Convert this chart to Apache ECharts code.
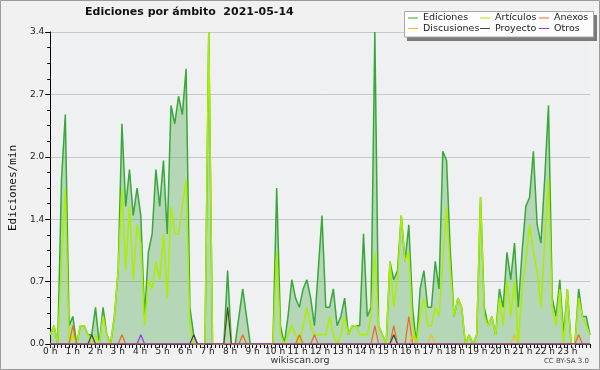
<!DOCTYPE html>
<html><head><meta charset="utf-8">
<script src="https://cdn.jsdelivr.net/npm/echarts@6/dist/echarts.min.js"></script>
<style>html,body{margin:0;padding:0;background:#f1f1f1}#c{width:600px;height:370px}</style>
</head><body><div id="c"></div>
<script>
// 10-minute slots, 00:00 .. 23:50
const times = [];
for (let h = 0; h < 24; h++) { for (let m = 0; m < 60; m += 10) { times.push(String(h).padStart(2,'0') + ':' + String(m).padStart(2,'0')); } }
const hourLabels = ['0 h','1 h','2 h','3 h','4 h','5 h','6 h','7 h','8 h','9 h','10 h','11 h','12 h','13 h','14 h','15 h','16 h','17 h','18 h','19 h','20 h','21 h','22 h','23 h'];

const ediciones = [
  0.1,0.2,0,1.8,2.5,0.2,0.3,0,0.2,0.2,0.1,0.1,
  0.4,0,0.4,0.1,0,0.3,0.8,2.4,1.5,1.9,1.4,1.7,
  1.4,0.3,1.0,1.2,1.9,1.5,2.0,1.2,2.6,2.4,2.7,2.5,
  3.0,0.4,0.1,0,0,0,3.4,0,0,0,0,0.8,
  0,0,0.3,0.6,0.3,0,0,0,0,0,0,0,
  1.7,0.2,0,0.3,0.7,0.5,0.4,0.6,0.7,0.5,0.2,0.8,
  1.4,0.4,0.4,0.6,0.2,0.3,0.5,0.1,0.2,0.2,0.2,1.2,
  0.3,0.4,3.4,0.2,0.1,0,0.9,0.7,0.8,1.4,0.9,1.3,
  0.4,0,0.6,0.8,0.4,0.4,0.9,0.6,2.1,2.0,1.0,0.3,
  0.5,0.4,0,0.1,0,0.1,1.6,0.4,0.2,0.3,0.1,0.6,
  0.4,1.0,0.7,1.1,0.4,1.0,1.5,1.6,2.1,1.3,1.1,1.8,
  2.6,0.5,0.3,0.7,0.1,0.6,0,0,0.6,0.3,0.3,0.1
];
const articulos = [
  0.1,0.2,0,0.9,1.7,0,0.1,0,0.2,0.2,0.1,0,
  0.1,0,0.3,0.1,0,0.3,0.8,1.7,0.8,1.5,0.7,1.3,
  1.1,0.2,0.7,0.6,0.9,0.7,1.2,0.5,1.5,1.2,1.2,1.5,
  1.8,0.2,0,0,0,0,3.4,0,0,0,0,0.4,
  0,0,0,0,0,0,0,0,0,0,0,0,
  1.0,0.1,0,0.1,0.2,0.1,0,0.2,0.4,0.2,0.1,0.1,
  0.1,0.1,0.3,0.1,0,0.1,0.3,0.1,0.2,0.2,0.1,0.1,
  0.1,0.3,1.0,0.2,0.1,0,0.9,0.4,0.7,1.4,0.9,1.0,
  0.2,0,0.3,0.5,0.2,0.2,0.4,0.3,0.9,1.5,0.8,0.3,
  0.5,0.4,0,0.1,0,0.1,1.6,0.3,0.2,0.3,0.1,0.5,
  0.2,0.7,0.3,0.7,0,0.6,0.9,1.3,1.0,0.8,0.4,1.1,
  1.8,0.4,0.2,0.6,0,0.6,0,0,0.5,0.3,0.2,0.1
];
const anexos = [
  0,0,0,0,0,0,0.2,0,0,0,0,0,
  0,0,0,0,0,0,0,0.1,0,0,0,0,
  0,0,0,0,0,0,0,0,0,0,0,0,
  0,0,0,0,0,0,0,0,0,0,0,0,
  0,0,0,0.1,0,0,0,0,0,0,0,0,
  0,0,0,0,0,0,0.1,0,0,0,0.1,0,
  0,0,0,0,0,0,0,0,0,0,0,0,
  0,0,0.2,0,0,0,0,0.2,0,0,0,0.3,
  0,0,0,0,0,0,0,0,0,0,0,0,
  0,0,0,0,0,0,0,0,0,0,0,0,
  0,0,0,0,0,0,0,0,0,0,0,0,
  0,0,0,0,0,0,0,0,0.1,0,0,0
];
const discusiones = [
  0,0,0,0,0,0,0,0,0,0,0,0,
  0,0,0,0,0,0,0,0,0,0,0,0,
  0,0,0,0,0,0,0,0,0,0,0,0,
  0,0,0,0,0,0,0,0,0,0,0,0,
  0,0,0,0,0,0,0,0,0,0,0,0,
  0,0,0,0,0,0,0,0,0,0,0,0,
  0,0,0,0,0,0,0,0,0,0,0,0,
  0,0,0,0,0,0,0,0,0,0,0,0,
  0.1,0,0,0,0,0.1,0,0,0,0,0,0,
  0,0,0,0,0,0,0,0,0,0,0,0,
  0,0,0,0.1,0,0,0,0,0,0,0,0,
  0,0,0,0,0,0,0,0,0,0,0,0
];
const proyecto = [
  0,0,0,0,0,0,0,0,0,0,0,0.1,
  0,0,0,0,0,0,0,0,0,0,0,0,
  0,0,0,0,0,0,0,0,0,0,0,0,
  0,0,0.1,0,0,0,0,0,0,0,0,0.4,
  0,0,0,0,0,0,0,0,0,0,0,0,
  0,0,0,0,0,0,0,0,0,0,0,0,
  0,0,0,0,0,0,0,0,0,0,0,0,
  0,0,0,0,0,0,0,0.1,0,0,0,0,
  0,0,0,0,0,0,0,0,0,0,0,0,
  0,0,0,0,0,0,0,0,0,0,0,0,
  0,0,0,0,0,0,0,0,0,0,0,0,
  0,0,0,0,0,0,0,0,0,0,0,0
];
const otros = [
  0,0,0,0,0,0,0,0,0,0,0,0,
  0,0,0,0,0,0,0,0,0,0,0,0,
  0.1,0,0,0,0,0,0,0,0,0,0,0,
  0,0,0,0,0,0,0,0,0,0,0,0,
  0,0,0,0,0,0,0,0,0,0,0,0,
  0,0,0,0,0,0,0,0,0,0,0,0,
  0,0,0,0,0,0,0,0,0,0,0,0,
  0,0,0,0,0,0,0,0,0,0,0,0,
  0,0,0,0,0,0,0,0,0,0,0,0,
  0,0,0,0,0,0,0,0,0,0,0,0,
  0,0,0,0,0,0,0,0,0,0,0,0,
  0,0,0,0,0,0,0,0,0,0,0,0
];

const FONT = 'DejaVu Sans';
const chart = echarts.init(document.getElementById('c'), null, {renderer: 'canvas'});
const legendText = {fontSize: 9.5, fontFamily: FONT, color: '#222', lineHeight: 10};
function legendCol(left, names) {
  return {orient: 'vertical', left: left, top: 13, padding: 0, itemGap: 0.5, itemWidth: 10, itemHeight: 10,
          icon: 'path://M0,0H10V1H0Z', symbolKeepAspect: true,
          selectedMode: false, data: names, textStyle: legendText, z: 12};
}
function lineSeries(name, data, color, width, z) {
  return {name: name, type: 'line', data: data, xAxisIndex: 0, symbol: 'none', showSymbol: false,
          lineStyle: {color: color, width: width}, itemStyle: {color: color}, z: z, animation: false};
}
const ed = lineSeries('Ediciones', ediciones, '#38a838', 1.5, 2);
ed.areaStyle = {color: 'rgba(60,160,60,0.45)'};
chart.setOption({
  backgroundColor: '#f1f1f1',
  animation: false,
  title: [
    {text: 'Ediciones por ámbito  2021-05-14', left: 85, top: 7, padding: 0,
     textStyle: {fontSize: 11, fontWeight: 'bold', fontFamily: FONT, color: '#111'}},
    {text: 'wikiscan.org', left: 'center', top: 356, padding: 0,
     textStyle: {fontSize: 9.5, fontWeight: 'normal', fontFamily: FONT, color: '#333'}},
    {text: 'CC BY-SA 3.0', right: 11, top: 358, padding: 0,
     textStyle: {fontSize: 7, fontWeight: 'normal', fontFamily: FONT, color: '#444'}}
  ],
  legend: [
    legendCol(408, ['Ediciones', 'Discusiones']),
    legendCol(480, ['Artículos', 'Proyecto']),
    legendCol(539, ['Anexos', 'Otros'])
  ],
  graphic: [
    {type: 'rect', z: 10, shape: {x: 407, y: 15, width: 190, height: 26}, style: {fill: '#7a7a7a'}},
    {type: 'rect', z: 11, shape: {x: 404.5, y: 11.5, width: 189, height: 25.5}, style: {fill: '#fdfdfd', stroke: '#a8a8a8', lineWidth: 1}},
    {type: 'rect', z: 20, shape: {x: 0.5, y: 0.5, width: 599, height: 369}, style: {fill: 'none', stroke: '#9a9a9a', lineWidth: 1}}
  ],
  grid: {left: 46, right: 10, top: 32, bottom: 26, show: true, backgroundColor: '#eef0f2', borderWidth: 0, containLabel: false},
  xAxis: [
    {type: 'category', data: times, boundaryGap: false, position: 'top', show: false},
    {type: 'value', min: 0, max: 24, interval: 1, position: 'bottom',
     axisLine: {show: true, lineStyle: {color: '#000', width: 1}},
     axisTick: {show: true, length: 4, lineStyle: {color: '#000'}},
     minorTick: {show: true, splitNumber: 6, length: 4, lineStyle: {color: '#000'}},
     splitLine: {show: false},
     axisLabel: {margin: 3, fontSize: 9, fontFamily: FONT, color: '#222',
                 formatter: function (v) { return hourLabels[v] || ''; }}}
  ],
  yAxis: {type: 'value', min: 0, max: 3.4, interval: 0.68,
    name: 'Ediciones/min', nameLocation: 'middle', nameGap: 28, nameRotate: 90,
    nameTextStyle: {fontSize: 11, fontFamily: 'DejaVu Sans Mono', color: '#111'},
    axisLine: {show: true, lineStyle: {color: '#000', width: 1}},
    axisTick: {show: true, length: 5, lineStyle: {color: '#000'}},
    minorTick: {show: true, splitNumber: 4, length: 3, lineStyle: {color: '#000'}},
    splitLine: {show: true, lineStyle: {color: '#c8c8c8', width: 1}},
    axisLabel: {margin: 6, fontSize: 9, fontFamily: FONT, color: '#222',
                formatter: function (v) { return v.toFixed(1); }}},
  series: [
    ed,
    lineSeries('Artículos', articulos, '#aaee00', 1.5, 3),
    lineSeries('Anexos', anexos, '#ee6622', 1.2, 4),
    lineSeries('Discusiones', discusiones, '#f0c020', 1.2, 4),
    lineSeries('Proyecto', proyecto, '#444444', 1.2, 5),
    lineSeries('Otros', otros, '#9933ee', 1.2, 5)
  ]
});
</script></body></html>
